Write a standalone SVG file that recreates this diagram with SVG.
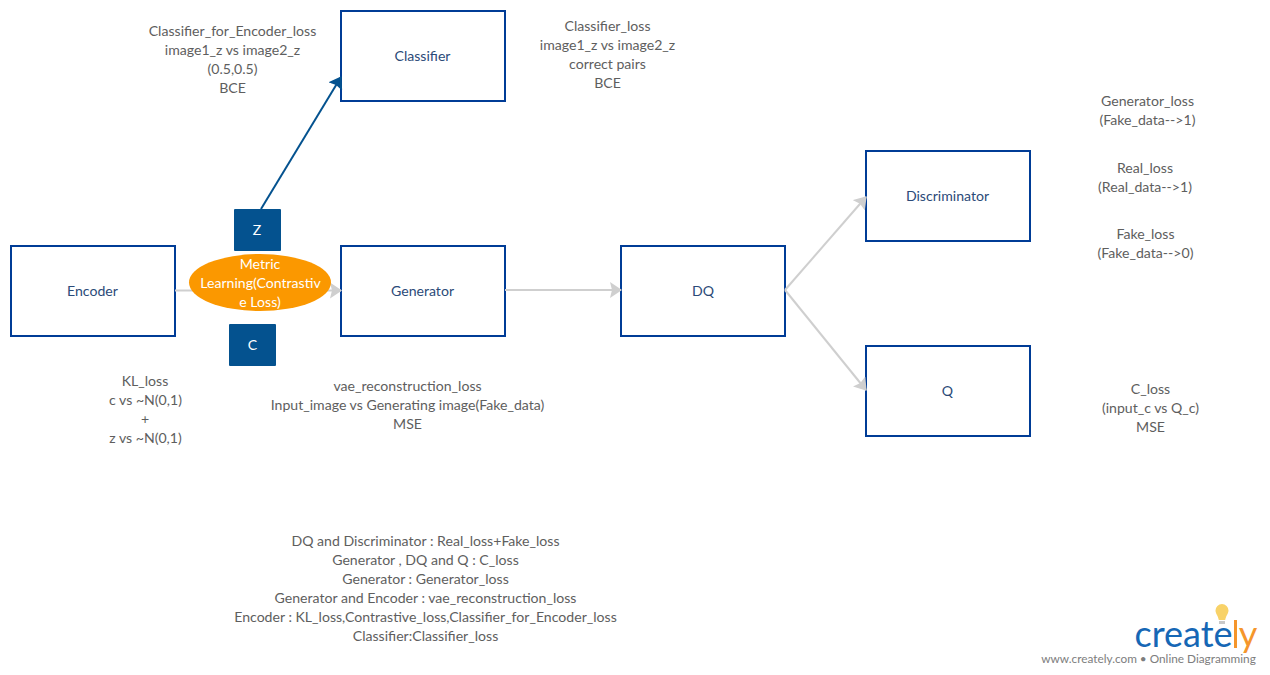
<svg xmlns="http://www.w3.org/2000/svg" width="1270" height="675" viewBox="0 0 1270 675">
<style>
text{font-family:Lato,"Open Sans",sans-serif;font-size:14.100px;text-anchor:middle}
.box{fill:#fff;stroke:#003c96;stroke-width:2}
.nl{fill:#2b4a78}
.t{fill:#5e5e5e}
.sq{fill:#04528f}
.w{fill:#fff}
.c{fill:none;stroke:#cfcfcf;stroke-width:2}
</style>
<defs>
<marker id="g" markerUnits="userSpaceOnUse" markerWidth="14" markerHeight="16" refX="11" refY="8" orient="auto" viewBox="0 0 14 16"><path d="M0 0L12 8L0 16L2 8Z" fill="#cfcfcf"/></marker>
<marker id="b" markerUnits="userSpaceOnUse" markerWidth="16" markerHeight="16" refX="11" refY="8" orient="auto" viewBox="0 0 16 16"><path d="M0 0L12 8L0 16L1.500 8Z" fill="#04528f"/></marker>
</defs>
<g id="classifier"><rect class="box" x="341" y="11" width="164" height="90"/><text class="nl" x="422.500" y="61">Classifier</text></g>
<g id="encoder"><rect class="box" x="11" y="246" width="164" height="90"/><text class="nl" x="92.500" y="296">Encoder</text></g>
<g id="generator"><rect class="box" x="341" y="246" width="164" height="90"/><text class="nl" x="422.500" y="296">Generator</text></g>
<g id="dq"><rect class="box" x="621" y="246" width="164" height="90"/><text class="nl" x="703" y="296">DQ</text></g>
<g id="discriminator"><rect class="box" x="866" y="151" width="164" height="90"/><text class="nl" x="947.500" y="201">Discriminator</text></g>
<g id="q"><rect class="box" x="866" y="346" width="164" height="90"/><text class="nl" x="947.500" y="396">Q</text></g>
<g id="connectors">
<path class="c" d="M175 290.500H341" marker-end="url(#g)"/>
<path class="c" d="M505 290H621" marker-end="url(#g)"/>
<path class="c" d="M785 290L866 197" marker-end="url(#g)"/>
<path class="c" d="M785 290L866 390" marker-end="url(#g)"/>
<path d="M261 209L341 77" fill="none" stroke="#04528f" stroke-width="2" marker-end="url(#b)"/>
</g>
<g id="z"><rect class="sq" x="234" y="209" width="47" height="42" rx="1"/><text class="w" x="257" y="235">Z</text></g>
<g id="c"><rect class="sq" x="229" y="324" width="47" height="42" rx="1"/><text class="w" x="252.500" y="350">C</text></g>
<g id="metric"><ellipse cx="260" cy="282.500" rx="71" ry="28.500" fill="#fb9800"/>
<text class="w" x="260" y="269">Metric</text><text class="w" x="260.500" y="288">Learning(Contrastiv</text><text class="w" x="260" y="307">e Loss)</text></g>
<g id="notes">
<text class="t" x="232.500" y="36">Classifier_for_Encoder_loss</text><text class="t" x="232.500" y="55">image1_z vs image2_z</text><text class="t" x="232.500" y="74">(0.5,0.5)</text><text class="t" x="232.500" y="93">BCE</text>
<text class="t" x="607.500" y="31">Classifier_loss</text><text class="t" x="607.500" y="50">image1_z vs image2_z</text><text class="t" x="607.500" y="69">correct pairs</text><text class="t" x="607.500" y="88">BCE</text>
<text class="t" x="1147.500" y="106">Generator_loss</text><text class="t" x="1147.500" y="125">(Fake_data--&gt;1)</text>
<text class="t" x="1145" y="173">Real_loss</text><text class="t" x="1145" y="192">(Real_data--&gt;1)</text>
<text class="t" x="1145.500" y="239">Fake_loss</text><text class="t" x="1145.500" y="258">(Fake_data--&gt;0)</text>
<text class="t" x="1150.500" y="394">C_loss</text><text class="t" x="1150.500" y="413">(input_c vs Q_c)</text><text class="t" x="1150.500" y="432">MSE</text>
<text class="t" x="145" y="386">KL_loss</text><text class="t" x="145.500" y="405">c vs ~N(0,1)</text><text class="t" x="145" y="424">+</text><text class="t" x="145.500" y="443">z vs ~N(0,1)</text>
<text class="t" x="407.500" y="391">vae_reconstruction_loss</text><text class="t" x="407.500" y="410">Input_image vs Generating image(Fake_data)</text><text class="t" x="407.500" y="429">MSE</text>
<text class="t" x="425.500" y="546">DQ and Discriminator : Real_loss+Fake_loss</text>
<text class="t" x="425.500" y="565">Generator , DQ and Q : C_loss</text>
<text class="t" x="425.500" y="584">Generator : Generator_loss</text>
<text class="t" x="425.500" y="603">Generator and Encoder : vae_reconstruction_loss</text>
<text class="t" x="425.500" y="622">Encoder : KL_loss,Contrastive_loss,Classifier_for_Encoder_loss</text>
<text class="t" x="425.500" y="641">Classifier:Classifier_loss</text>
</g>
<g id="logo">
<path d="M1222 604a6.500 6.500 0 0 1 6.500 6.500c0 3-2.500 5-3.300 9.500h-6.400c-.8-4.500-3.300-6.500-3.300-9.500a6.500 6.500 0 0 1 6.500-6.500Z" fill="#f8d268"/>
<path d="M1219 621h6v3h-6Z" fill="#c9c9c9"/>
<text x="1183.500" y="647" style="font-size:36px;fill:#1667b5">create</text>
<path d="M1235.500 620V648" stroke="#f5962b" stroke-width="3" fill="none"/>
<text x="1248" y="647" style="font-size:36px;fill:#f5962b">y</text>
<text x="1148.500" y="663" style="font-size:11.800px;fill:#7d7d7d">www.creately.com • Online Diagramming</text>
</g>
</svg>
